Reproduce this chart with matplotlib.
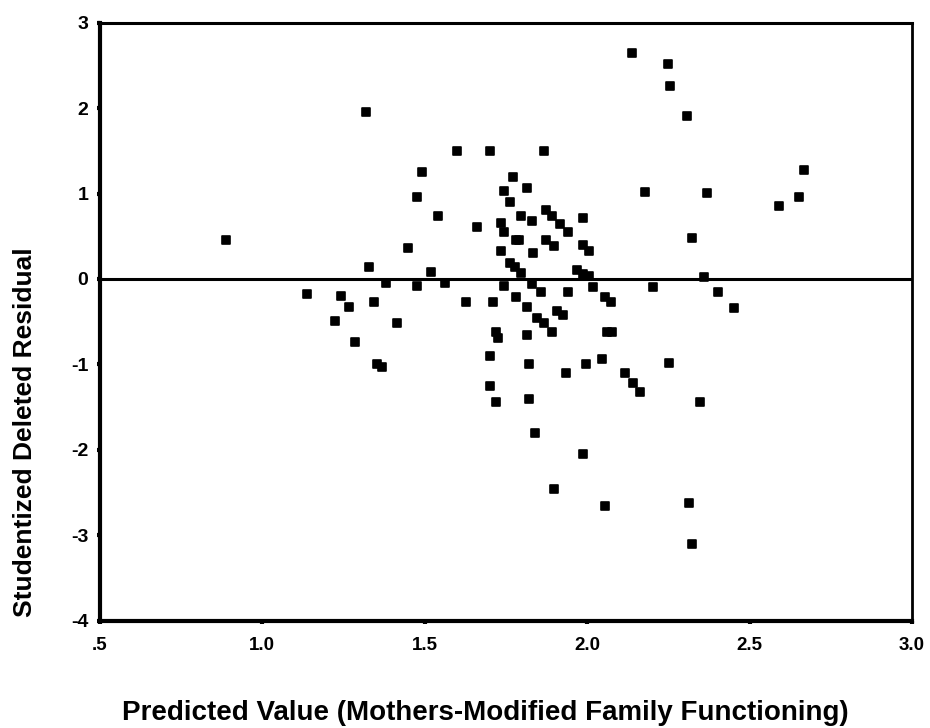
import numpy as np
import matplotlib
matplotlib.use('Agg')
from matplotlib import pyplot as plt

# predicted value (x) and studentized deleted residual (y)
predicted = [0.887, 1.137, 1.224, 1.242, 1.268, 1.284, 1.319, 1.328, 1.345, 1.352,
             1.367, 1.381, 1.415, 1.449, 1.475, 1.475, 1.493, 1.518, 1.540, 1.562,
             1.600, 1.626, 1.660, 1.700, 1.700, 1.700, 1.709, 1.719, 1.727, 1.719,
             1.736, 1.745, 1.736, 1.745, 1.745, 1.762, 1.762, 1.778, 1.796, 1.773,
             1.781, 1.790, 1.781, 1.796, 1.814, 1.814, 1.814, 1.822, 1.822, 1.829,
             1.831, 1.832, 1.838, 1.847, 1.858, 1.867, 1.867, 1.873, 1.873, 1.891,
             1.892, 1.898, 1.899, 1.908, 1.916, 1.927, 1.934, 1.942, 1.942, 1.970,
             1.986, 1.986, 1.988, 1.988, 1.995, 2.006, 2.006, 2.019, 2.047, 2.054,
             2.055, 2.072, 2.062, 2.075, 2.116, 2.137, 2.142, 2.163, 2.178, 2.204,
             2.248, 2.253, 2.256, 2.307, 2.312, 2.322, 2.324, 2.348, 2.360, 2.368,
             2.402, 2.452, 2.592, 2.651, 2.668]
residual = [0.46, -0.17, -0.49, -0.20, -0.33, -0.74, 1.95, 0.14, -0.27, -1.00,
            -1.03, -0.05, -0.52, 0.36, 0.96, -0.08, 1.25, 0.08, 0.74, -0.05,
            1.50, -0.27, 0.61, 1.50, -0.90, -1.25, -0.27, -0.62, -0.69, -1.44,
            0.65, 0.55, 0.33, 1.03, -0.08, 0.90, 0.19, 0.14, 0.07, 1.19,
            0.46, 0.46, -0.21, 0.74, 1.06, -0.33, -0.65, -1.00, -1.41, -0.06,
            0.68, 0.30, -1.80, -0.46, -0.15, -0.52, 1.50, 0.81, 0.46, 0.74,
            -0.62, -2.46, 0.39, -0.37, 0.64, -0.42, -1.10, 0.55, -0.15, 0.10,
            0.40, -2.05, 0.71, 0.06, -1.00, 0.33, 0.03, -0.09, -0.94, -2.66,
            -0.21, -0.27, -0.62, -0.62, -1.10, 2.64, -1.22, -1.32, 1.02, -0.09,
            2.52, -0.98, 2.26, 1.91, -2.62, -3.10, 0.48, -1.44, 0.02, 1.01,
            -0.15, -0.34, 0.86, 0.96, 1.28]

x_ticks = [0.5, 1.0, 1.5, 2.0, 2.5, 3.0]
x_tick_labels = ['.5', '1.0', '1.5', '2.0', '2.5', '3.0']
y_ticks = [3, 2, 1, 0, -1, -2, -3, -4]
y_tick_labels = ['3', '2', '1', '0', '-1', '-2', '-3', '-4']

plt.rcParams['font.family'] = ['Liberation Sans', 'DejaVu Sans']

fig = plt.figure(figsize=(9.3, 7.28), dpi=100)
ax = fig.add_axes([0.1075, 0.1474, 0.8731, 0.8214])

ax.scatter(predicted, residual, marker='s', s=34, c='black',
           edgecolors='black', linewidths=1.2, zorder=3)
ax.axhline(0, color='black', linewidth=2.2, zorder=2)

ax.set_xlim(0.5, 3.0)
ax.set_ylim(-4, 3)
ax.set_xticks(x_ticks)
ax.set_xticklabels(x_tick_labels, fontsize=13.5, fontweight='bold')
ax.set_yticks(y_ticks)
ax.set_yticklabels(y_tick_labels, fontsize=14, fontweight='bold')
ax.tick_params(axis='x', length=2.5, width=3, pad=9)
ax.tick_params(axis='y', length=2.5, width=3, pad=6)

ax.spines['left'].set_linewidth(3)
ax.spines['bottom'].set_linewidth(3)
ax.spines['top'].set_linewidth(2.2)
ax.spines['right'].set_linewidth(2)

# axis titles placed as in the scan
fig.text(485 / 930, 1 - 720 / 728,
         'Predicted Value (Mothers-Modified Family Functioning)',
         fontsize=20, fontweight='bold', ha='center', va='baseline')
fig.text(25 / 930, 1 - 432 / 728, 'Studentized Deleted Residual',
         fontsize=19, fontweight='bold', rotation=90, ha='center', va='center')

plt.savefig('out.png', dpi=100)
